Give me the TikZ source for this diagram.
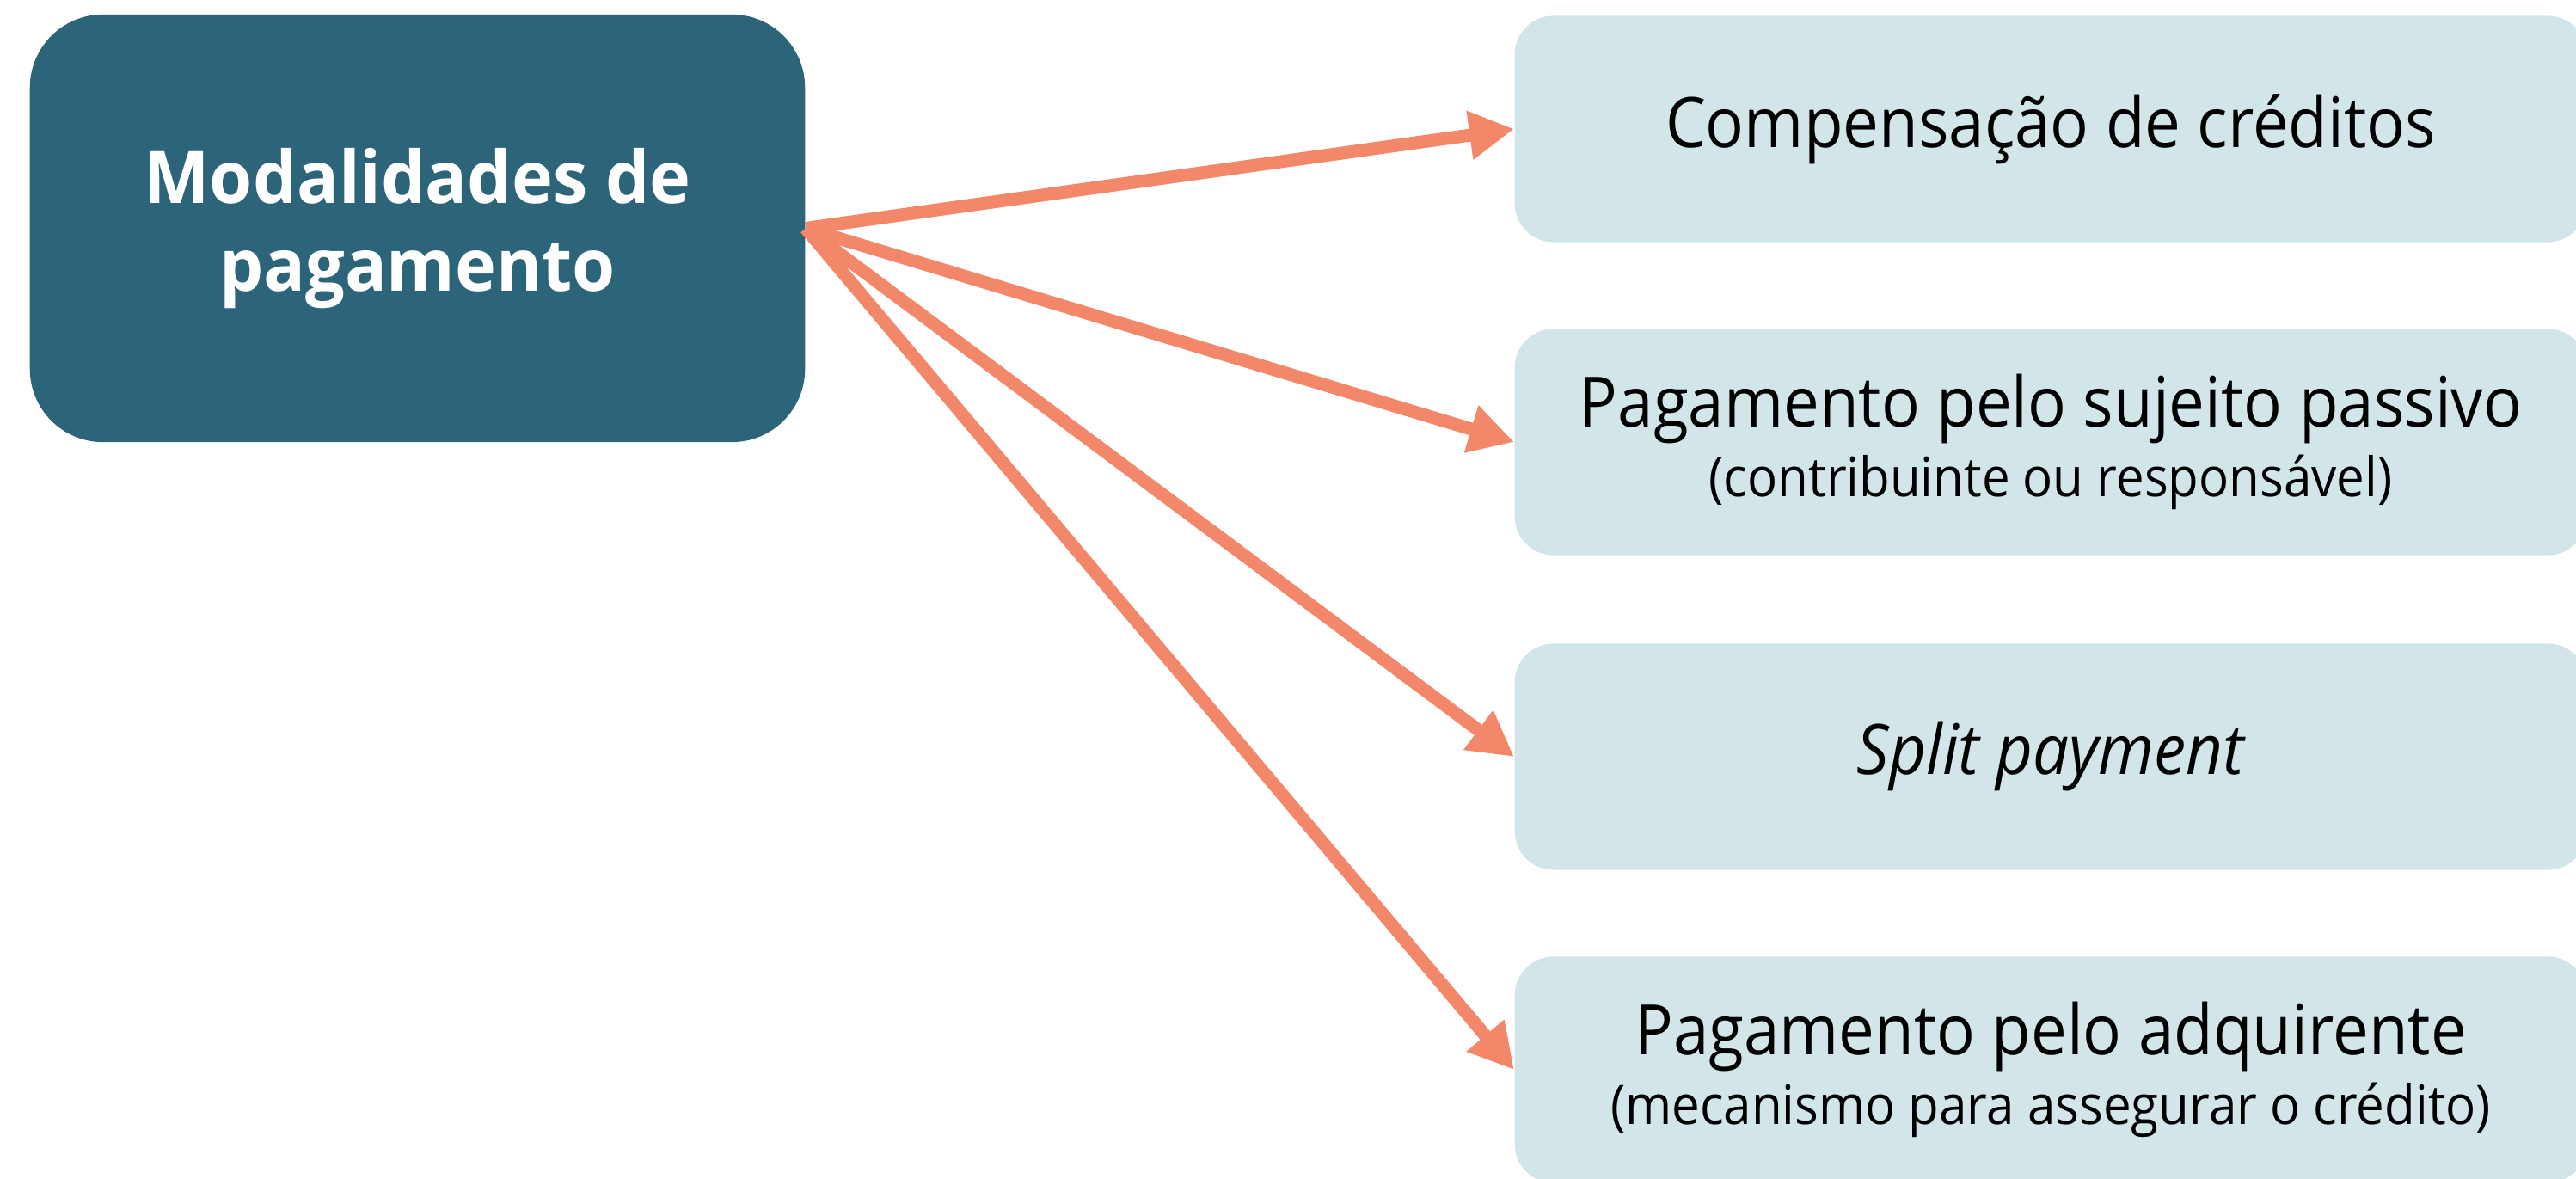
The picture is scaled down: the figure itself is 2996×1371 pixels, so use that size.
\documentclass[tikz,border=0pt]{standalone}
\usepackage{fontspec}
\setmainfont{Open Sans}[FakeStretch=0.92]
\newfontfamily\modfont{Open Sans}[FakeStretch=0.96]
\usetikzlibrary{arrows.meta}

\definecolor{modteal}{HTML}{2C6479}
\definecolor{optfill}{HTML}{D2E6E9}
\definecolor{salmon}{HTML}{F3876A}
\newcommand{\notesize}{\fontsize{18}{18}\selectfont}

\begin{document}
\begin{tikzpicture}[x=0.01cm, y=-0.01cm,
    modbox/.style={fill=modteal, rounded corners=0.85cm, minimum width=9.01cm,
        minimum height=4.97cm, text=white, align=center,
        font=\modfont\fontsize{24}{29}\selectfont\bfseries},
    optbox/.style={fill=optfill, rounded corners=0.45cm, minimum width=12.46cm,
        minimum height=2.63cm, align=center,
        font=\fontsize{23}{23}\selectfont},
    pay/.style={draw=salmon, line width=0.15cm,
        -{Triangle[length=0.52cm, width=0.54cm]}}]
    \useasboundingbox (0, 0) rectangle (2996, 1371);
    %\draw[lightgray] (0, 0) grid[step=100] (2996, 1371);
    \node[modbox] (mod) at (485.5, 265.5) {Modalidades de\\pagamento};
    \node[optbox] (comp) at (2385, 150) {Compensação de créditos};
    \node[optbox] (sujeito) at (2385, 514) {Pagamento pelo sujeito passivo\\
        {\notesize (contribuinte ou responsável)}};
    \node[optbox] (split) at (2385, 880) {\itshape Split payment};
    \node[optbox] (adq) at (2385, 1244) {Pagamento pelo adquirente\\
        {\notesize (mecanismo para assegurar o crédito)}};
    \draw[pay] (mod.east) -- (comp.west);
    \draw[pay] (mod.east) -- (sujeito.west);
    \draw[pay] (mod.east) -- (split.west);
    \draw[pay] (mod.east) -- (adq.west);
\end{tikzpicture}
\end{document}
